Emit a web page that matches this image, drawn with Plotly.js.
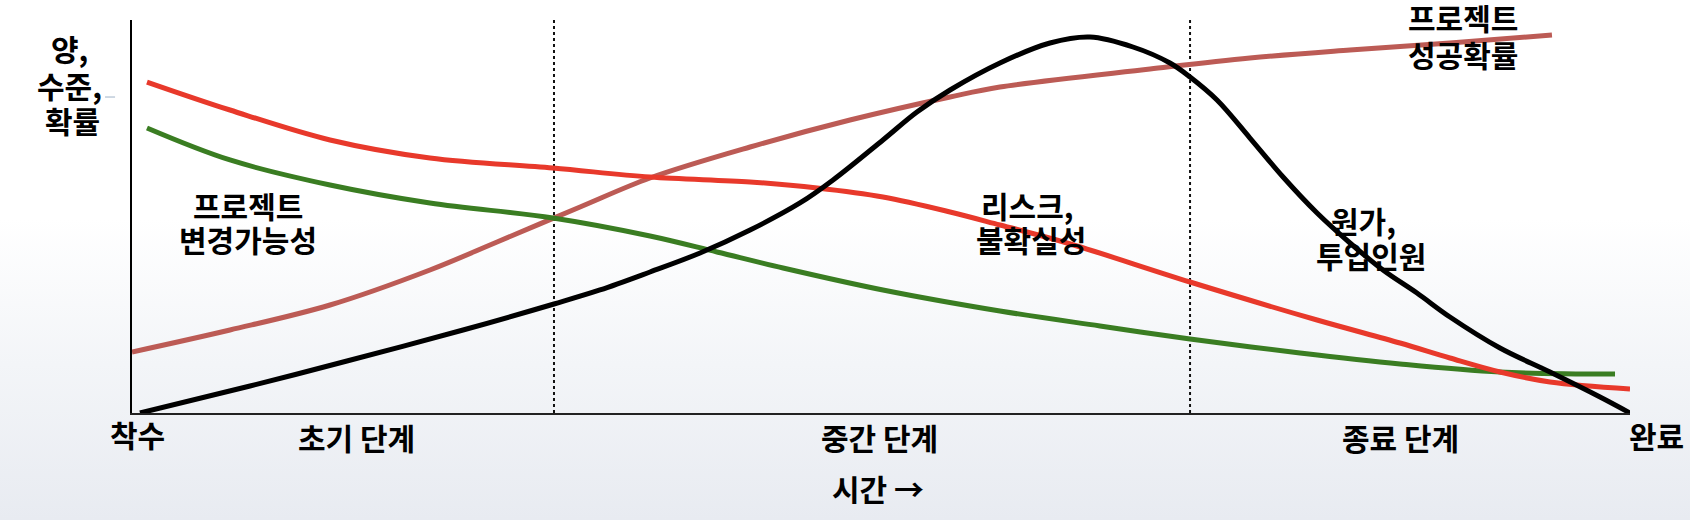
<!DOCTYPE html>
<html>
<head>
<meta charset="utf-8">
<script src="https://cdn.plot.ly/plotly-3.0.1.min.js"></script>
<style>
  html, body { margin: 0; padding: 0; }
  body {
    width: 1690px; height: 520px; overflow: hidden;
    background: linear-gradient(to bottom, #ffffff 0%, #ffffff 42%, #f3f5f8 70%, #e8ebf1 100%);
  }
  #chart { width: 1690px; height: 520px; }
</style>
</head>
<body>
<div id="chart"></div>
<script>
// Time axis: 0 = 착수 (start), 100 = 완료 (completion); level axis 0-100
const costTime   = [0.53, 7.88, 14.35, 22.10, 28.17, 31.24, 34.58, 37.92, 41.26, 44.59, 46.80, 50.13, 52.40, 54.61, 57.94, 61.28, 63.95, 66.82, 69.29, 70.63, 72.43, 74.63, 76.84, 79.11, 81.31, 83.51, 85.78, 87.98, 91.32, 94.66, 98.00, 100];
const costLevel  = [0, 6.87, 13.23, 21.12, 27.74, 31.30, 35.88, 40.71, 46.56, 53.44, 59.29, 69.47, 76.59, 82.19, 89.06, 94.15, 95.67, 93.13, 89.06, 85.50, 79.64, 69.97, 60.05, 50.89, 43.26, 36.39, 30.53, 24.43, 16.54, 10.43, 4.07, 0];

const riskTime   = [1.00, 6.54, 13.22, 19.89, 28.10, 34.58, 41.26, 45.73, 50.13, 54.61, 57.94, 62.42, 70.63, 79.11, 84.65, 87.98, 91.32, 94.66, 100];
const riskLevel  = [84.22, 77.10, 69.47, 64.89, 62.34, 60.05, 58.78, 57.25, 54.96, 51.15, 47.84, 43.26, 33.33, 23.66, 17.81, 13.99, 10.43, 7.89, 6.11];

const changeTime  = [1.00, 6.54, 13.22, 19.89, 28.10, 34.58, 39.05, 43.46, 50.13, 57.94, 64.62, 70.63, 77.97, 84.65, 91.32, 99.00];
const changeLevel = [72.52, 64.38, 58.02, 53.44, 49.62, 45.04, 40.97, 36.90, 31.30, 25.95, 22.14, 18.83, 15.27, 12.47, 10.43, 9.92];

const successTime  = [0, 6.54, 13.22, 19.89, 24.37, 29.91, 34.58, 41.26, 47.93, 54.61, 57.94, 67.96, 74.63, 81.31, 87.98, 94.79];
const successLevel = [15.52, 21.12, 27.48, 36.39, 43.51, 52.42, 59.80, 67.68, 74.55, 80.41, 82.95, 87.53, 90.33, 92.37, 94.15, 96.18];

const phaseBoundaries = [28.17, 70.63];

const phaseLabels = ['초기 단계', '중간 단계', '종료 단계'];
const phaseLabelX = [15.02, 49.87, 84.71];
const phaseLabelY = -6.11;
const startLabel = '착수';
const endLabel = '완료';
const xTitle = '시간 →';
const yTitleLines = ['양,', '수준,', '확률'];
const yTitleX = [-4.14, -4.14, -3.94];
const yTitleY = [92.88, 83.46, 74.55];

// series labels, one entry per text line
const seriesLabelLines = ['프로젝트', '변경가능성', '리스크,', '불확실성', '원가,', '투입인원', '프로젝트', '성공확률'];
const seriesLabelX = [7.74, 7.74, 59.75, 60.01, 82.18, 82.71, 88.85, 88.85];
const seriesLabelY = [52.93, 44.27, 52.93, 44.27, 49.11, 40.20, 100.76, 91.35];

const FONT = '"Noto Sans CJK KR", "Noto Sans", sans-serif';
const FONT_SIZE = 30;

function line(x, y, color, width) {
  return { x: x, y: y, type: 'scatter', mode: 'lines',
           line: { color: color, width: width, shape: 'spline', smoothing: 1 },
           cliponaxis: false, hoverinfo: 'skip', showlegend: false };
}

const traces = [
  line(successTime, successLevel, '#BC5B55', 5),
  line(changeTime, changeLevel, '#3A7D22', 5),
  line(riskTime, riskLevel, '#E8392B', 5),
  line(costTime, costLevel, '#000000', 5)
];

// positions are in axis units (0-100), converted to paper fractions
function ann(text, x, y) {
  return { text: '<b>' + text + '</b>', x: x / 100, y: y / 100, xref: 'paper', yref: 'paper',
           showarrow: false, xanchor: 'center', yanchor: 'middle', align: 'center',
           font: { family: FONT, size: FONT_SIZE, color: '#000000' } };
}

const annotations = [];
yTitleLines.forEach((t, i) => annotations.push(ann(t, yTitleX[i], yTitleY[i])));
annotations.push(ann(startLabel, 0.40, -5.34));
annotations.push(ann(endLabel, 101.74, -5.60));
annotations.push(ann(xTitle, 49.80, -19.08));
phaseLabels.forEach((t, i) => annotations.push(ann(t, phaseLabelX[i], phaseLabelY)));
seriesLabelLines.forEach((t, i) => annotations.push(ann(t, seriesLabelX[i], seriesLabelY[i])));

const shapes = phaseBoundaries.map(b => ({
  type: 'line', xref: 'x', yref: 'y', x0: b, x1: b, y0: 0, y1: 100,
  line: { color: '#111111', width: 2, dash: 'dot' }, layer: 'below'
}));
shapes.push({ type: 'line', xref: 'paper', yref: 'paper', x0: -0.018, x1: -0.0113, y0: 0.804, y1: 0.804,
              line: { color: '#9fb3c8', width: 1 } });

const layout = {
  width: 1690, height: 520,
  margin: { l: 132, r: 60, t: 20, b: 107 },
  paper_bgcolor: 'rgba(0,0,0,0)', plot_bgcolor: 'rgba(0,0,0,0)',
  xaxis: { range: [0, 100], showgrid: false, zeroline: false, showticklabels: false, ticks: '',
           showline: true, linecolor: '#222222', linewidth: 2, fixedrange: true },
  yaxis: { range: [0, 100], showgrid: false, zeroline: false, showticklabels: false, ticks: '',
           showline: true, linecolor: '#000000', linewidth: 2, fixedrange: true },
  annotations: annotations,
  shapes: shapes,
  showlegend: false
};

Plotly.newPlot('chart', traces, layout, { displayModeBar: false, staticPlot: true });
</script>
</body>
</html>
